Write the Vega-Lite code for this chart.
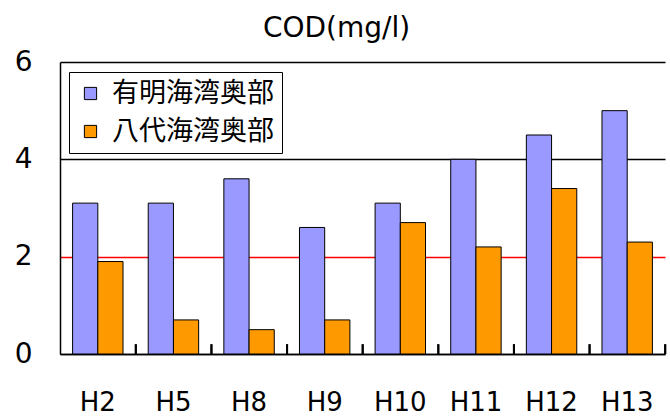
{
  "$schema": "https://vega.github.io/schema/vega-lite/v6.json",
  "autosize": "none",
  "width": 605,
  "height": 292,
  "padding": {"left": 60, "top": 62, "right": 5, "bottom": 66},
  "background": "white",
  "title": {"text": "COD(mg/l)", "font": "DejaVu Sans", "fontSize": 28, "fontWeight": "normal", "color": "black", "offset": 5, "anchor": "middle", "frame": "group", "dx": -26},
  "data": {"values": [
    {"year": "H2", "area": "有明海湾奥部", "cod": 3.1},
    {"year": "H5", "area": "有明海湾奥部", "cod": 3.1},
    {"year": "H8", "area": "有明海湾奥部", "cod": 3.6},
    {"year": "H9", "area": "有明海湾奥部", "cod": 2.6},
    {"year": "H10", "area": "有明海湾奥部", "cod": 3.1},
    {"year": "H11", "area": "有明海湾奥部", "cod": 4.0},
    {"year": "H12", "area": "有明海湾奥部", "cod": 4.5},
    {"year": "H13", "area": "有明海湾奥部", "cod": 5.0},
    {"year": "H2", "area": "八代海湾奥部", "cod": 1.9},
    {"year": "H5", "area": "八代海湾奥部", "cod": 0.7},
    {"year": "H8", "area": "八代海湾奥部", "cod": 0.5},
    {"year": "H9", "area": "八代海湾奥部", "cod": 0.7},
    {"year": "H10", "area": "八代海湾奥部", "cod": 2.7},
    {"year": "H11", "area": "八代海湾奥部", "cod": 2.2},
    {"year": "H12", "area": "八代海湾奥部", "cod": 3.4},
    {"year": "H13", "area": "八代海湾奥部", "cod": 2.3}
  ]},
  "layer": [
    {
      "mark": {"type": "bar", "stroke": "black", "strokeWidth": 1},
      "encoding": {
        "x": {
          "field": "year", "type": "nominal", "sort": null,
          "scale": {"paddingInner": 0, "paddingOuter": 0},
          "axis": {"title": null, "labelAngle": 0, "labelFont": "DejaVu Sans", "labelFontSize": 26, "labelColor": "black", "labelPadding": 35, "domainColor": "black", "domainWidth": 1.5, "ticks": false, "grid": false}
        },
        "xOffset": {"field": "area", "type": "nominal", "sort": ["有明海湾奥部", "八代海湾奥部"], "scale": {"paddingInner": 0, "paddingOuter": 0.5}},
        "y": {
          "field": "cod", "type": "quantitative",
          "scale": {"domain": [0, 6], "nice": false},
          "axis": {"title": null, "values": [0, 2, 4, 6], "ticks": false, "labelFont": "DejaVu Sans", "labelFontSize": 28, "labelColor": "black", "labelPadding": 28, "domainColor": "black", "domainWidth": 1.5, "grid": true, "gridWidth": 1.5, "gridColor": {"condition": {"test": "datum.value == 2", "value": "#FF0000"}, "value": "black"}, "gridOpacity": 1}
        },
        "color": {
          "field": "area", "type": "nominal", "sort": ["有明海湾奥部", "八代海湾奥部"],
          "scale": {"domain": ["有明海湾奥部", "八代海湾奥部"], "range": ["#9999FF", "#FF9900"]},
          "legend": {"title": null, "orient": "none", "legendX": 9, "legendY": 10, "fillColor": "white", "strokeColor": "black", "padding": 8, "symbolType": "square", "symbolSize": 150, "symbolStrokeColor": "black", "symbolStrokeWidth": 1, "symbolOpacity": 1, "labelFont": "Noto Sans CJK JP", "labelFontSize": 27, "labelColor": "black", "labelLimit": 300, "rowPadding": 10, "labelOffset": 8}
        }
      }
    },
    {
      "mark": {"type": "rule", "color": "black", "strokeWidth": 2, "xOffset": 38},
      "encoding": {
        "x": {"field": "year", "type": "nominal", "sort": null},
        "y": {"datum": 0},
        "y2": {"datum": 0.2}
      }
    }
  ],
  "config": {"view": {"stroke": null}}
}
